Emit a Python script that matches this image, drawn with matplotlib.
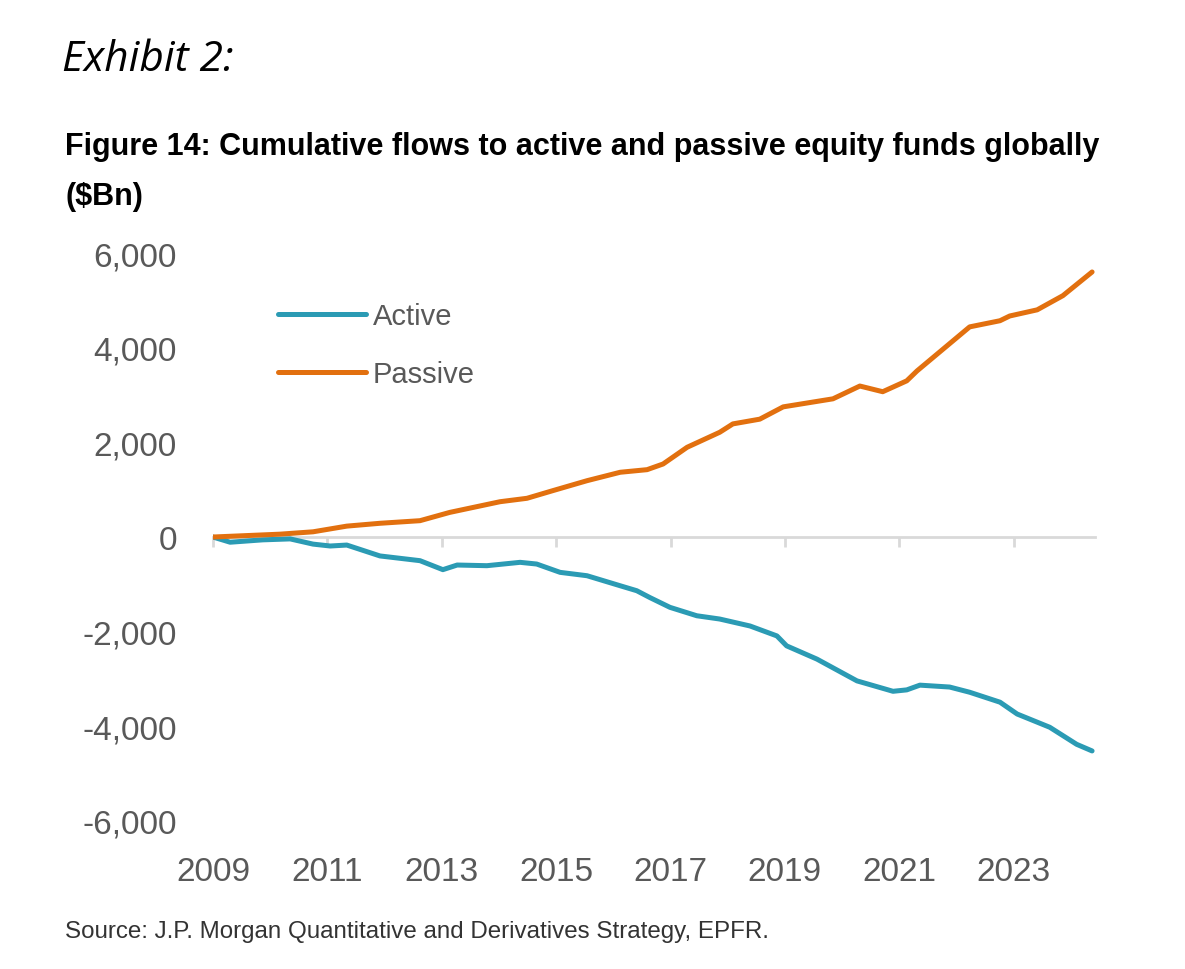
import matplotlib
matplotlib.use("Agg")
import matplotlib.pyplot as plt

plt.rcParams['font.family'] = ['Liberation Sans', 'DejaVu Sans']

# cumulative flows, $Bn
passive_years = [2009.0, 2010.17, 2010.75, 2011.34, 2011.92, 2012.62, 2013.14,
                 2014.02, 2014.49, 2014.94, 2015.54, 2016.12, 2016.59, 2016.87, 2017.29,
                 2017.86, 2018.09, 2018.56, 2018.97, 2019.84, 2020.31, 2020.71, 2021.13,
                 2021.31, 2022.23, 2022.76, 2022.93, 2023.41, 2023.86, 2024.37]
passive = [0, 60, 110, 230, 290, 345, 520, 746, 818, 979, 1190, 1368, 1423, 1543,
           1896, 2213, 2390, 2490, 2750, 2920, 3190, 3070, 3300, 3510, 4440, 4570, 4670,
           4800, 5100, 5600]

active_years = [2009.0, 2009.3, 2009.87, 2010.35, 2010.75, 2011.05, 2011.34, 2011.92,
                2012.62, 2013.02, 2013.27, 2013.79, 2014.37, 2014.66, 2015.07, 2015.54,
                2016.12, 2016.41, 2016.64, 2016.99, 2017.46, 2017.86, 2018.39, 2018.86,
                2019.03, 2019.56, 2020.26, 2020.89, 2021.13, 2021.36, 2021.88, 2022.23,
                2022.76, 2023.06, 2023.63, 2024.1, 2024.37]
active = [0, -110, -60, -40, -150, -190, -170, -400, -500, -690, -592, -606, -535, -571,
          -747, -818, -1030, -1135, -1280, -1486, -1664, -1733, -1880, -2090, -2300, -2580,
          -3040, -3260, -3230, -3130, -3170, -3280, -3490, -3740, -4020, -4380, -4520]

year_ticks = [2009, 2011, 2013, 2015, 2017, 2019, 2021, 2023]
value_ticks = [-6000, -4000, -2000, 0, 2000, 4000, 6000]

teal = '#2b9bb4'
orange = '#e2700f'
grey_text = '#595959'

fig = plt.figure(figsize=(11.85, 9.7), dpi=100)
ax = fig.add_axes([0.1797, 0.1526, 0.7443, 0.5855])

ax.plot(active_years, active, color=teal, lw=3.6, label='Active', solid_capstyle='round')
ax.plot(passive_years, passive, color=orange, lw=3.6, label='Passive', solid_capstyle='round')

ax.set_xlim(2009, 2024.42)
ax.set_ylim(-6000, 6000)
ax.set_yticks(value_ticks)
ax.set_yticklabels([f'{v:,}' for v in value_ticks])
ax.tick_params(axis='y', length=0, pad=26, labelsize=24, labelcolor=grey_text)

for s in ['top', 'right', 'left']:
    ax.spines[s].set_visible(False)
ax.spines['bottom'].set_position(('data', 0))
ax.spines['bottom'].set_color('#d9d9d9')
ax.spines['bottom'].set_linewidth(2)
ax.spines['bottom'].set_zorder(0)
ax.set_xticks(year_ticks)
ax.tick_params(axis='x', length=7, width=2, color='#d9d9d9', labelbottom=False)

sec = ax.secondary_xaxis('bottom')
sec.set_xticks(year_ticks)
sec.set_xticklabels([str(y) for y in year_ticks])
sec.tick_params(length=0, pad=25, labelsize=24, labelcolor=grey_text)
sec.spines['bottom'].set_visible(False)

leg = ax.legend(loc='center left', bbox_to_anchor=(0.074, 0.838), frameon=False,
                fontsize=21, handlelength=3.0, handletextpad=0.24, labelspacing=1.05,
                borderpad=0, borderaxespad=0)
for t in leg.get_texts():
    t.set_color(grey_text)

fig.text(0.052, 0.938, 'Exhibit 2:', family=['Open Sans', 'DejaVu Sans'], style='italic',
         fontsize=30.5, va='center', ha='left', color='black')
fig.text(0.055, 0.848, 'Figure 14: Cumulative flows to active and passive equity funds globally',
         fontsize=22, weight='bold', va='center', ha='left', color='black')
fig.text(0.055, 0.797, '($Bn)', fontsize=22, weight='bold', va='center', ha='left', color='black')
fig.text(0.055, 0.039, 'Source: J.P. Morgan Quantitative and Derivatives Strategy, EPFR.',
         fontsize=17.4, va='center', ha='left', color='#333333')

fig.savefig('out.png', dpi=100, facecolor='white')
